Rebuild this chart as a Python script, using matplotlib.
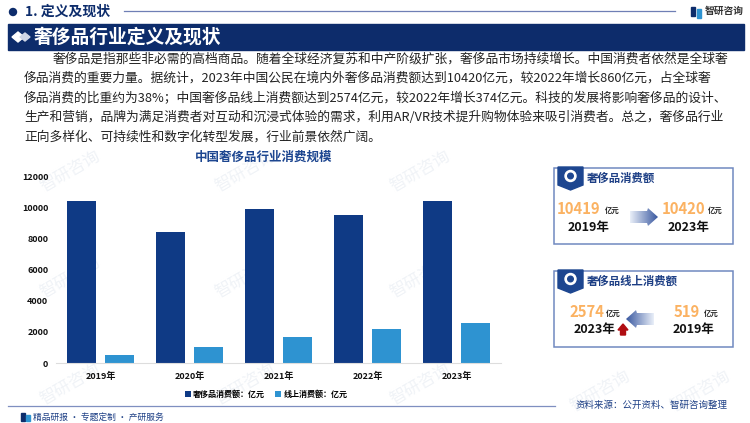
import matplotlib
matplotlib.use("Agg")
import matplotlib.pyplot as plt
from matplotlib.patches import Rectangle, Polygon, Circle

plt.rcParams['font.family'] = ['Noto Sans CJK SC', 'DejaVu Sans']

# chart data
years = ["2019年", "2020年", "2021年", "2022年", "2023年"]
luxury = [10419, 8400, 9900, 9500, 10420]
online = [519, 1000, 1650, 2200, 2574]
yticks = [0, 2000, 4000, 6000, 8000, 10000, 12000]

intro = [
    "奢侈品是指那些非必需的高档商品。随着全球经济复苏和中产阶级扩张，奢侈品市场持续增长。中国消费者依然是全球奢",
    "侈品消费的重要力量。据统计，2023年中国公民在境内外奢侈品消费额达到10420亿元，较2022年增长860亿元，占全球奢",
    "侈品消费的比重约为38%；中国奢侈品线上消费额达到2574亿元，较2022年增长374亿元。科技的发展将影响奢侈品的设计、",
    "生产和营销，品牌为满足消费者对互动和沉浸式体验的需求，利用AR/VR技术提升购物体验来吸引消费者。总之，奢侈品行业",
    "正向多样化、可持续性和数字化转型发展，行业前景依然广阔。",
]

NAVY = "#0d2c6b"
DARK = "#0f3a85"
LIGHT = "#2e93d1"
ORANGE = "#fbb262"
BORDER = "#7089c0"

W, H = 750, 423
fig = plt.figure(figsize=(7.5, 4.23), dpi=100, facecolor="white")

# full size overlay in pixel coordinates for the page furniture
bg = fig.add_axes([0, 0, 1, 1])
bg.set_xlim(0, W)
bg.set_ylim(H, 0)
bg.axis("off")

# watermarks
for wx, wy in [(70, 172), (245, 172), (420, 172), (70, 278), (245, 278), (420, 278),
               (70, 385), (245, 385), (420, 385), (600, 200), (600, 310), (600, 392), (700, 392)]:
    bg.text(wx, wy, "智研咨询", fontsize=12, color="#f0f3f7", rotation=30,
            ha="center", va="center", zorder=0)

# top heading
bg.add_patch(Circle((13, 12), 3.5, color=NAVY))
bg.text(25, 12, "1. 定义及现状", fontsize=10, fontweight="bold", color=NAVY, va="center")
bg.plot([124, 675], [11.5, 11.5], color="#6f7fb5", lw=0.9)
bg.text(705, 11, "智研咨询", fontsize=7, fontweight="bold", color="#333333", va="center", ha="left")
bg.add_patch(Rectangle((691, 7), 4, 9, color=NAVY))
bg.add_patch(Rectangle((697, 9), 4, 9, color=LIGHT))

# title band
bg.add_patch(Rectangle((8, 24), 736, 26, color=NAVY))
bg.add_patch(Polygon([(12, 37), (18, 32), (24, 37), (18, 42)], color="white"))
bg.add_patch(Polygon([(20, 37), (25, 33), (30, 37), (25, 41)], color="#cfd6e6"))
bg.text(34, 37, "奢侈品行业定义及现状", fontsize=13.5, fontweight="bold", color="white", va="center")

# intro paragraph
line_y = [59, 78.5, 98, 117.5, 137]
for i, line in enumerate(intro):
    bg.text(53 if i == 0 else 24, line_y[i], line, fontsize=9.2, color="#222222", va="center")

bg.text(264, 157.5, "中国奢侈品行业消费规模", fontsize=9, fontweight="bold", color="#1d4690",
        ha="center", va="center")

# bar chart, axes box placed by pixels
left, right, top, bottom = 56, 501, 176.5, 363
ax = fig.add_axes([left / W, 1 - bottom / H, (right - left) / W, (bottom - top) / H])
ax.patch.set_alpha(0)
xs = list(range(len(years)))
bw = 0.33
ax.bar([x - 0.21 for x in xs], luxury, bw, color=DARK, label="奢侈品消费额：亿元")
ax.bar([x + 0.21 for x in xs], online, bw, color=LIGHT, label="线上消费额：亿元")
ax.set_xlim(-0.5, 4.5)
ax.set_ylim(0, 12000)
ax.set_yticks(yticks)
ax.set_xticks(xs)
ax.set_xticklabels(years)
ax.tick_params(axis="both", length=0, labelsize=6.5, colors="#111111")
ax.tick_params(axis="x", pad=6)
ax.tick_params(axis="y", pad=5.5)
for lab in ax.get_xticklabels() + ax.get_yticklabels():
    lab.set_fontweight("bold")
for s in ["top", "right", "left"]:
    ax.spines[s].set_visible(False)
ax.spines["bottom"].set_color("#dddddd")
ax.legend(loc="upper center", bbox_to_anchor=(0.472, -0.105), ncol=2, frameon=False,
          handlelength=0.8, handleheight=0.8, columnspacing=1.2, handletextpad=0.25,
          prop={"size": 5.8, "weight": "bold"})


def card(y0, y1, title, badge):
    bg.add_patch(Rectangle((554, y0), 179, y1 - y0, fc="white", ec=BORDER, lw=1.1, zorder=2))
    bg.add_patch(Polygon([(558, y0 - 1), (583, y0 - 1), (583, y0 + badge - 5), (570.5, y0 + badge), (558, y0 + badge - 5)],
                         color="#1d4690", zorder=3))
    bg.add_patch(Circle((570.5, y0 + 8), 5.5, color="white", zorder=4))
    bg.add_patch(Circle((570.5, y0 + 8), 2.8, color="#1d4690", zorder=5))
    bg.text(587, y0 + 10.5, title, fontsize=8.2, fontweight="bold", color="#1d3f85", va="center", zorder=4)


def gradient_arrow(x0, x1, y, extent):
    # fade the arrow from pale to blue by stacking thin slices
    n = 28
    step = (x1 - x0) / n
    head = 0.36 * abs(x1 - x0)

    def half_at(dist):
        return extent if dist > head else extent * 1.5 * dist / head

    for k in range(n):
        xa = x0 + k * step
        t = (k + 1) / n
        h0 = half_at(abs(x1 - xa))
        h1 = half_at(abs(x1 - xa - step))
        col = (0.93 - 0.7 * t, 0.95 - 0.6 * t, 0.98 - 0.35 * t)
        bg.add_patch(Polygon([(xa, y - h0), (xa + step, y - h1), (xa + step, y + h1), (xa, y + h0)],
                             color=col, lw=0, zorder=3))


def figure_text(x, y, value, unit_x, unit_y):
    bg.text(x, y, value, fontsize=10.7, color=ORANGE, fontweight="bold", va="center", zorder=4)
    bg.text(unit_x, unit_y, "亿元", fontsize=5.3, fontweight="bold", color="#222222", va="center", zorder=4)


def year_text(x, y, s):
    bg.text(x, y, s, fontsize=9, fontweight="bold", color="#111111", ha="center", va="center", zorder=4)


# first card
card(168, 244, "奢侈品消费额", 22)
figure_text(557, 209, "10419", 605, 210)
year_text(589, 228, "2019年")
gradient_arrow(630, 658, 217, 6)
figure_text(662, 209, "10420", 708, 210)
year_text(689, 228, "2023年")

# second card
card(271, 347, "奢侈品线上消费额", 22)
figure_text(570, 312, "2574", 606, 313)
year_text(595, 330, "2023年")
bg.add_patch(Polygon([(618, 330), (623, 324), (628, 330), (625.5, 330), (625.5, 335), (620.5, 335), (620.5, 330)],
                     color="#b00d12", zorder=4))
gradient_arrow(654, 626, 319, 6)
figure_text(674, 312, "519", 704, 313)
year_text(693.5, 330, "2019年")

# footer
bg.plot([8, 555], [406.5, 406.5], color="#7f8fc0", lw=0.9)
bg.add_patch(Rectangle((21, 413), 4, 8, color=NAVY))
bg.add_patch(Rectangle((26, 415), 4, 6, color=LIGHT))
bg.text(33, 417, "精品研报 · 专题定制 · 产研服务", fontsize=6.3, color="#1d3f85", va="center")
bg.text(576, 405.5, "资料来源：公开资料、智研咨询整理", fontsize=6.8, color="#1d3f85", va="center")

fig.savefig("out.png", dpi=100)
